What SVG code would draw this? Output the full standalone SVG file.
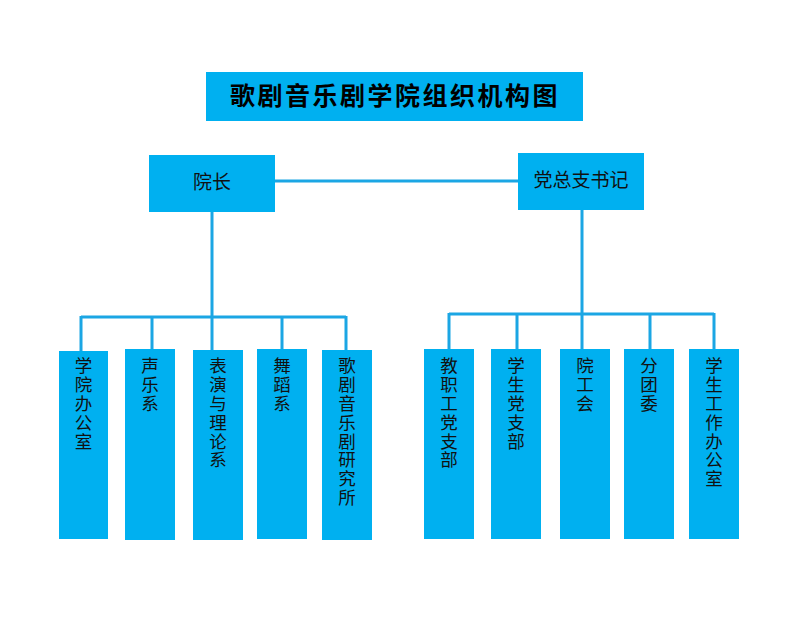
<svg xmlns="http://www.w3.org/2000/svg" width="810" height="623" viewBox="0 0 810 623">
<style>
.box{fill:#00B0F0;}
.ln{stroke:#1BA6E4;stroke-width:3;fill:none;}
.t{font-family:"Noto Sans CJK SC","Noto Sans",sans-serif;font-size:19px;fill:#111;text-anchor:middle;}
.v{font-family:"Noto Sans CJK SC","Noto Sans",sans-serif;font-size:17.5px;fill:#111;writing-mode:vertical-rl;text-anchor:start;letter-spacing:1.3px;}
.title{font-family:"Noto Sans CJK SC","Noto Sans",sans-serif;font-size:25px;font-weight:bold;fill:#000;text-anchor:middle;letter-spacing:2.5px;}
</style>
<rect width="810" height="623" fill="#fff"/>
<g id="connectors">
<path class="ln" d="M275 181H518"/>
<path class="ln" d="M212 212V317M81 317H346M81 316V351M152 316V350M212 316V350M282 316V350M346 316V350"/>
<path class="ln" d="M582 210V314M449 314H714M449 313V349M517 313V349M582 313V349M650 313V349M714 313V349"/>
</g>
<g id="title"><rect class="box" x="206" y="72" width="377" height="49"/><text class="title" x="395" y="105">歌剧音乐剧学院组织机构图</text></g>
<g id="dean"><rect class="box" x="149" y="155" width="126" height="57"/><text class="t" x="212" y="189">院长</text></g>
<g id="secretary"><rect class="box" x="518" y="153" width="126" height="57"/><text class="t" x="581" y="187">党总支书记</text></g>
<g id="n1"><rect class="box" x="59" y="351" width="49" height="188"/><text class="v" x="83.5" y="357">学院办公室</text></g>
<g id="n2"><rect class="box" x="125" y="349" width="50" height="191"/><text class="v" x="150" y="357">声乐系</text></g>
<g id="n3"><rect class="box" x="193" y="350" width="50" height="190"/><text class="v" x="218" y="357">表演与理论系</text></g>
<g id="n4"><rect class="box" x="257" y="349" width="50" height="190"/><text class="v" x="282" y="357">舞蹈系</text></g>
<g id="n5"><rect class="box" x="322" y="350" width="50" height="190"/><text class="v" x="347" y="357">歌剧音乐剧研究所</text></g>
<g id="m1"><rect class="box" x="424" y="349" width="50" height="190"/><text class="v" x="449" y="357">教职工党支部</text></g>
<g id="m2"><rect class="box" x="491" y="349" width="50" height="190"/><text class="v" x="516" y="357">学生党支部</text></g>
<g id="m3"><rect class="box" x="560" y="349" width="50" height="190"/><text class="v" x="585" y="357">院工会</text></g>
<g id="m4"><rect class="box" x="624" y="349" width="50" height="190"/><text class="v" x="649" y="357">分团委</text></g>
<g id="m5"><rect class="box" x="689" y="349" width="50" height="190"/><text class="v" x="714" y="357">学生工作办公室</text></g>
</svg>
